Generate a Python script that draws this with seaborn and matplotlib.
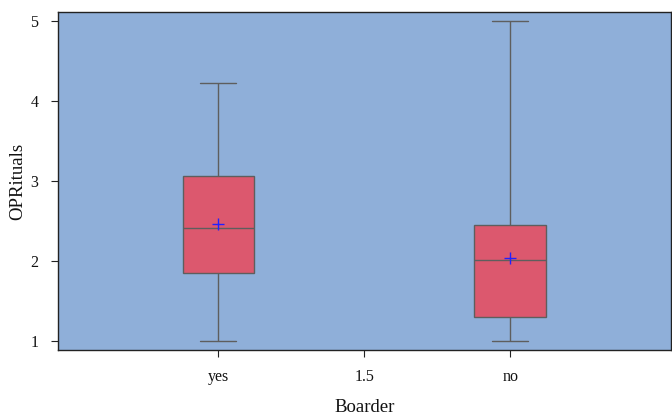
import matplotlib
matplotlib.use('Agg')
import matplotlib.pyplot as plt
import seaborn as sns
import pandas as pd

# five-number summary per group: min, q1, median, q3, max
groups = ['yes', 'no']
yes_vals = [1.0, 1.85, 2.41, 3.06, 4.22]
no_vals = [1.0, 1.30, 2.01, 2.45, 5.0]
means = [2.46, 2.03]

df = pd.DataFrame({
    'Boarder': ['yes'] * len(yes_vals) + ['no'] * len(no_vals),
    'OPRituals': yes_vals + no_vals,
})

sns.set_style('ticks')
plt.rcParams['font.family'] = ['Liberation Serif', 'DejaVu Serif']

fig, ax = plt.subplots(figsize=(6.72, 4.15), dpi=100)
fig.subplots_adjust(left=0.086, right=0.998, top=0.971, bottom=0.157)
ax.set_facecolor('#8FAFD9')

sns.boxplot(data=df, x='Boarder', y='OPRituals', order=groups, ax=ax,
            width=0.245, whis=(0, 100), color='#DC586E', saturation=1,
            linecolor='#5E5E5E', linewidth=1.0)
mean_df = pd.DataFrame({'Boarder': groups, 'mean': means})
sns.scatterplot(data=mean_df, x='Boarder', y='mean', marker='+', s=70,
                color='#2020FF', linewidth=1.0, ax=ax, zorder=5)

ax.set_xlim(-0.55, 1.55)
ax.set_ylim(0.8875, 5.1125)
ax.set_xticks([0, 0.5, 1])
ax.set_xticklabels(['yes', '1.5', 'no'])
ax.set_yticks([1, 2, 3, 4, 5])
ax.tick_params(labelsize=11.5, length=5, color='#222222', labelcolor='#111111', pad=9)
ax.set_xlabel('Boarder', fontsize=13.5, labelpad=10, color='#111111')
ax.set_ylabel('OPRituals', fontsize=13.5, labelpad=3, color='#111111')
for s in ax.spines.values():
    s.set_color('#222222')
    s.set_linewidth(1.0)

plt.savefig('out.png', dpi=100)
